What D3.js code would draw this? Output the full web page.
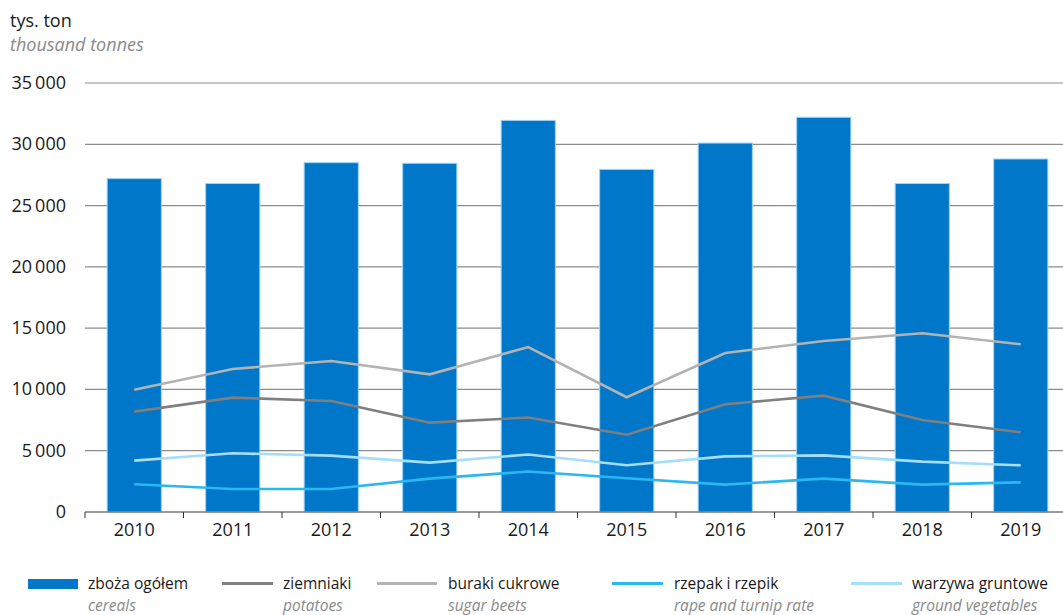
<!DOCTYPE html>
<html><head><meta charset="utf-8">
<script src="https://cdn.jsdelivr.net/npm/d3@7"></script>
<style>
body{margin:0;background:#fff;}
svg{display:block;font-family:"Open Sans",sans-serif;}
</style></head>
<body><svg id="c" width="1063" height="615"></svg>
<script>
const years = ["2010","2011","2012","2013","2014","2015","2016","2017","2018","2019"];
const cereals = [27200,26800,28500,28450,31950,27950,30100,32200,26800,28800];
const potatoes = [8190,9330,9060,7290,7710,6310,8790,9490,7510,6500];
const sugarBeets = [9970,11670,12320,11230,13460,9360,12970,13950,14580,13680];
const rape = [2260,1880,1880,2720,3300,2750,2230,2720,2230,2420];
const vegetables = [4190,4790,4600,4030,4690,3810,4540,4620,4110,3810];
const yTicks = [0,5000,10000,15000,20000,25000,30000,35000];

const svg = d3.select("#c");
const x = d3.scaleBand().domain(years).range([85,1070]).paddingInner(0.45).paddingOuter(0.225);
const xc = d3.scaleBand().domain(years).range([85,1070]);
const y = d3.scaleLinear().domain([0,35000]).range([512,83]);
const fmt = v => v===0 ? "0" : d3.format(",")(v).replace(/,/g,"\u2009");

// gridlines
svg.append("g").selectAll("line").data(yTicks.filter(d=>d>0)).join("line")
  .attr("x1",85).attr("x2",1063).attr("y1",d=>y(d)).attr("y2",d=>y(d))
  .attr("stroke","#8c8c8c").attr("stroke-width",1.2);
// y labels
svg.append("g").selectAll("text").data(yTicks).join("text")
  .attr("x",66).attr("y",d=>y(d)+6).attr("text-anchor","end")
  .attr("font-size",18).attr("fill","#1a1a1a").text(fmt);

// bars
svg.append("g").selectAll("rect").data(cereals).join("rect")
  .attr("x",(d,i)=>x(years[i])).attr("width",x.bandwidth())
  .attr("y",d=>y(d)).attr("height",d=>512-y(d))
  .attr("fill","#0077c8").attr("stroke","#9dd3f5").attr("stroke-width",1);

// lines
const line = d3.line().x((d,i)=>xc(years[i])+xc.bandwidth()/2).y(d=>y(d));
const series = [
  {v:sugarBeets,c:"#b3b3b3"},
  {v:potatoes,c:"#7f7f7f"},
  {v:vegetables,c:"#a6ddf9"},
  {v:rape,c:"#2ab7f2"}
];
svg.append("g").selectAll("path").data(series).join("path")
  .attr("d",d=>line(d.v)).attr("fill","none").attr("stroke",d=>d.c).attr("stroke-width",2.6);

// x axis
const xa = svg.append("g").attr("transform","translate(0,512)");
xa.append("line").attr("x1",85).attr("x2",1063).attr("y1",0).attr("y2",0).attr("stroke","#7a7a7a").attr("stroke-width",1.5);
xa.selectAll("line.t").data(years).join("line").attr("class","t")
  .attr("x1",d=>xc(d)).attr("x2",d=>xc(d)).attr("y1",0).attr("y2",6).attr("stroke","#333").attr("stroke-width",1);
xa.selectAll("text").data(years).join("text")
  .attr("x",d=>xc(d)+xc.bandwidth()/2).attr("y",24).attr("text-anchor","middle")
  .attr("font-size",18).attr("fill","#1a1a1a").text(d=>d);

// titles
svg.append("text").attr("x",10).attr("y",27).attr("font-size",18).attr("fill","#1a1a1a").text("tys. ton");
svg.append("text").attr("x",10).attr("y",51).attr("font-size",18).attr("font-style","italic").attr("fill","#8a8a8a").text("thousand tonnes");

// legend
const legNames = ["zboża ogółem","ziemniaki","buraki cukrowe","rzepak i rzepik","warzywa gruntowe"];
const legEn = ["cereals","potatoes","sugar beets","rape and turnip rate","ground vegetables"];
const legColors = ["#0077c8","#7f7f7f","#b3b3b3","#2ab7f2","#a6ddf9"];
const legX = [28,222,377,612,851];
const legW = [50,51,60,51,51];
const legTX = [88,283,448,674,912];
const lg = svg.append("g");
legNames.forEach((n,i)=>{
  if(i===0) lg.append("rect").attr("x",legX[i]).attr("y",579).attr("width",legW[i]).attr("height",10).attr("fill",legColors[i]);
  else lg.append("line").attr("x1",legX[i]).attr("x2",legX[i]+legW[i]).attr("y1",583.5).attr("y2",583.5).attr("stroke",legColors[i]).attr("stroke-width",3);
  lg.append("text").attr("x",legTX[i]).attr("y",589).attr("font-size",15.5).attr("fill","#1a1a1a").text(n);
  lg.append("text").attr("x",legTX[i]).attr("y",611).attr("font-size",15.5).attr("font-style","italic").attr("fill","#8a8a8a").text(legEn[i]);
});
</script></body></html>
